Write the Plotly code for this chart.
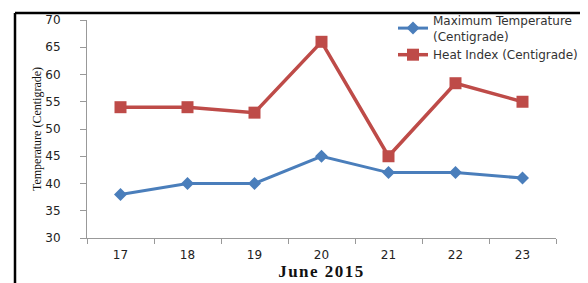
import plotly.graph_objects as go

days = ["17", "18", "19", "20", "21", "22", "23"]
max_temp = [38, 40, 40, 45, 42, 42, 41]
heat_index = [54, 54, 53, 66, 45, 58.4, 55]
y_ticks = [30, 35, 40, 45, 50, 55, 60, 65, 70]

# page has an 8px body margin; compensate
OFF = 8
L, T, PW, PH = 87 - OFF, 20 - OFF, 469, 218

fig = go.Figure()
fig.add_trace(go.Scatter(
    x=days, y=max_temp, name="Maximum Temperature<br>(Centigrade)",
    mode="lines+markers",
    line=dict(color="#4a7ebb", width=3),
    marker=dict(symbol="diamond", size=10, color="#4a7ebb"),
))
fig.add_trace(go.Scatter(
    x=days, y=heat_index, name="Heat Index (Centigrade)",
    mode="lines+markers",
    line=dict(color="#be4b48", width=3.5),
    marker=dict(symbol="square", size=12, color="#be4b48"),
))

def px(xpage):
    return (xpage - OFF - L) / PW

def py(ypage):
    return (T + PH - (ypage - OFF)) / PH

fig.update_layout(
    width=588, height=283,
    margin=dict(l=L, r=588 - L - PW, t=T, b=283 - T - PH, autoexpand=False),
    plot_bgcolor="white", paper_bgcolor="white",
    font=dict(family="DejaVu Sans", size=12, color="#222"),
    legend=dict(x=px(393), y=py(6), xanchor="left", yanchor="top",
                font=dict(family="DejaVu Sans", size=12, color="#333"),
                bgcolor="rgba(0,0,0,0)", tracegroupgap=4),
    xaxis=dict(
        type="category", range=[-0.5, 6.5], tickson="boundaries",
        showline=True, linecolor="#999", linewidth=1,
        ticks="outside", ticklen=5, tickcolor="#999",
        ticklabelstandoff=6,
        showgrid=False, zeroline=False,
        tickfont=dict(family="DejaVu Sans", size=12, color="#222"),
        title=dict(text="<b><span style='letter-spacing:1.5px'>June 2015</span></b>", standoff=3,
                   font=dict(family="Liberation Serif", size=17, color="#111")),
    ),
    yaxis=dict(
        range=[30, 70], tickvals=y_ticks,
        showline=True, linecolor="#999", linewidth=1,
        ticks="outside", ticklen=6, tickcolor="#999",
        ticklabelstandoff=17,
        showgrid=False, zeroline=False,
        tickfont=dict(family="DejaVu Sans", size=12, color="#222"),
        title=dict(text="Temperature (Centigrade)", standoff=1,
                   font=dict(family="Liberation Serif", size=12, color="#111")),
    ),
    shapes=[
        dict(type="line", xref="paper", yref="paper",
             x0=px(15), x1=px(15), y0=-0.4, y1=py(13),
             line=dict(color="black", width=2.5)),
        dict(type="line", xref="paper", yref="paper",
             x0=px(15), x1=1.2, y0=py(13), y1=py(13),
             line=dict(color="black", width=2.5)),
    ],
)

fig.write_html("out.html")
